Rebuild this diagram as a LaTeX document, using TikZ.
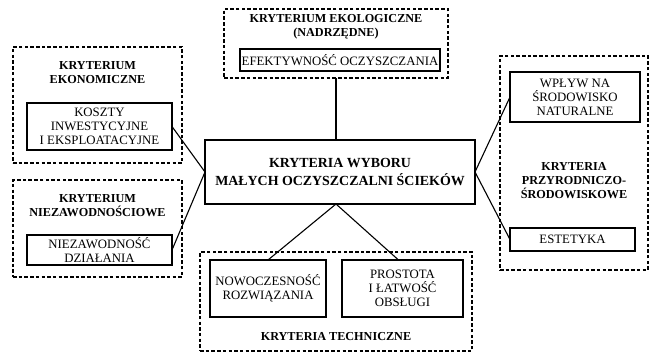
\documentclass[tikz,border=0pt]{standalone}
\usepackage{fontspec}
\setmainfont{Liberation Serif}
\begin{document}
\begin{tikzpicture}[x=1pt,y=-1pt,
  dbox/.style={draw, dashed, dash pattern=on 3.5pt off 2.2pt, line width=1.3pt, inner sep=0pt, outer sep=0pt},
  ibox/.style={draw, line width=1.2pt, inner sep=0pt, outer sep=0pt, align=center, font=\fontsize{12.8}{14}\selectfont},
  ttl/.style={align=center, inner sep=0pt, font=\fontsize{12.2}{14}\selectfont\bfseries},
  conn/.style={line width=1.1pt}]
\useasboundingbox (0,0) rectangle (651,356);
% dashed groups
\node[dbox, minimum width=224pt, minimum height=69pt] (ekod) at (336,43.5) {};
\node[dbox, minimum width=169pt, minimum height=116pt] (ekond) at (97.5,105) {};
\node[dbox, minimum width=169pt, minimum height=97pt] (niezd) at (97.5,228.5) {};
\node[dbox, minimum width=272pt, minimum height=99pt] (techd) at (336,301.5) {};
\node[dbox, minimum width=148pt, minimum height=214pt] (przd) at (574,163) {};
% titles
\node[ttl] (ekot) at (336,26.5) {KRYTERIUM EKOLOGICZNE\\(NADRZĘDNE)};
\node[ttl] (ekont) at (97.5,72.5) {KRYTERIUM\\EKONOMICZNE};
\node[ttl] (niezt) at (97.5,206) {KRYTERIUM\\NIEZAWODNOŚCIOWE};
\node[ttl] (techt) at (336,337) {KRYTERIA TECHNICZNE};
\node[ttl] (przt) at (574,180.5) {KRYTERIA\\PRZYRODNICZO-\\ŚRODOWISKOWE};
% inner boxes
\node[ibox, minimum width=200pt, minimum height=22pt] (efek) at (340,60) {EFEKTYWNOŚĆ OCZYSZCZANIA};
\node[ibox, minimum width=145pt, minimum height=47pt] (koszt) at (99.5,126.5) {KOSZTY\\INWESTYCYJNE\\I EKSPLOATACYJNE};
\node[ibox, minimum width=145pt, minimum height=30pt] (niez) at (99.5,250) {NIEZAWODNOŚĆ\\DZIAŁANIA};
\node[ibox, minimum width=116pt, minimum height=57pt] (nowo) at (268,288.5) {NOWOCZESNOŚĆ\\ROZWIĄZANIA};
\node[ibox, minimum width=121pt, minimum height=57pt] (prost) at (402.5,288.5) {PROSTOTA\\I ŁATWOŚĆ\\OBSŁUGI};
\node[ibox, minimum width=130pt, minimum height=50pt] (wplyw) at (575,97) {WPŁYW NA\\ŚRODOWISKO\\NATURALNE};
\node[ibox, minimum width=125pt, minimum height=23pt] (estet) at (572.5,239.5) {ESTETYKA};
% central
\node[draw, line width=1.8pt, inner sep=0pt, outer sep=0pt, minimum width=270pt, minimum height=64pt, align=center, font=\fontsize{13.9}{18}\selectfont\bfseries] (cen) at (340,172) {KRYTERIA WYBORU\\MAŁYCH OCZYSZCZALNI ŚCIEKÓW};
% connectors
\draw[conn] (ekod.south) -- (ekod.south |- cen.north);
\draw[conn] (koszt.east) -- (cen.west);
\draw[conn] (niez.east) -- (cen.west);
\draw[conn] (cen.east) -- (wplyw.west);
\draw[conn] (cen.east) -- (estet.west);
\coordinate (apex) at ([xshift=-4pt]cen.south);
\draw[conn] (nowo.north) -- (apex) -- ([xshift=-4pt]prost.north);
\end{tikzpicture}
\end{document}
